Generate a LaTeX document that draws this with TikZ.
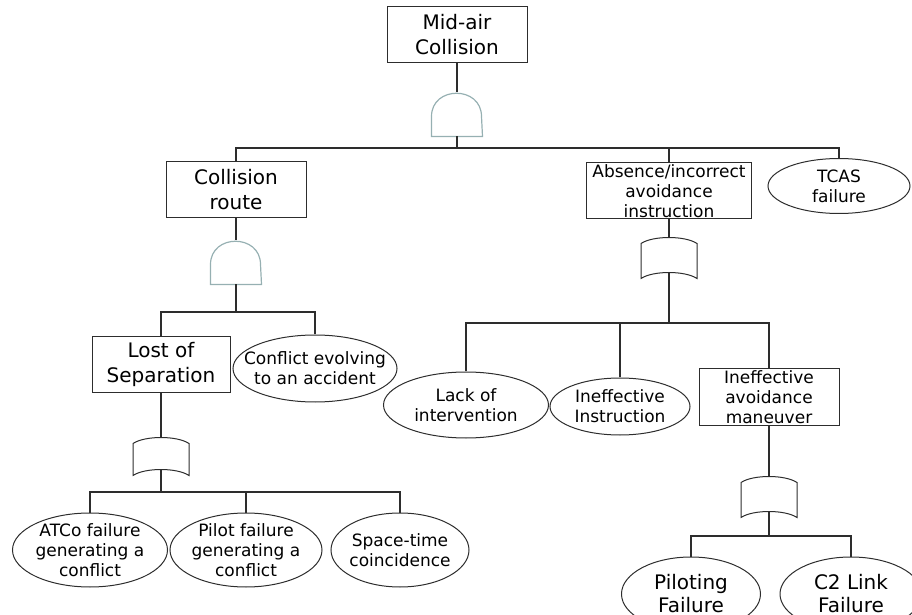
\documentclass[tikz,border=0pt]{standalone}
\usepackage{fontspec}
\setmainfont{DejaVu Sans}
\usetikzlibrary{positioning, shapes.geometric}

\definecolor{gatecol}{RGB}{150,176,178}
\definecolor{linecol}{RGB}{45,45,45}

% gate outlines drawn round an empty node
\newcommand{\andgate}[1]{\draw[gatecol, line width=0.6pt] (#1.south west) -- ++(0,-20) .. controls +(0,-31) and +(0,-31) .. ++(50,0) -- (#1.south east) -- cycle;}
\newcommand{\orgate}[1]{\draw[linecol, line width=0.5pt] ([yshift=-3pt]#1.north west) .. controls +(12,-8) and +(-12,-8) .. ([yshift=-3pt]#1.north east) -- (#1.south east) .. controls +(-12,-8) and +(12,-8) .. (#1.south west) -- cycle;}

\begin{document}
\begin{tikzpicture}[x=0.5pt, y=-0.5pt,
   every node/.style={align=center, inner sep=0pt, draw=linecol, line width=0.5pt},
   big/.style={font=\fontsize{10}{12.5}\selectfont},
   small/.style={font=\fontsize{8.5}{10}\selectfont},
   event/.style={rectangle, minimum width=70pt, minimum height=28pt},
   basic/.style={ellipse, inner xsep=-12pt, inner ysep=-5pt, minimum width=80pt, minimum height=37pt},
   gate/.style={rectangle, draw=none, minimum width=25pt},
   link/.style={draw=linecol, line width=0.65pt}]
   \useasboundingbox (0,0) rectangle (912,615);

   % top of the tree
   \node[event, big] (top) at (457,35) {Mid-air\\Collision};
   \node[gate, minimum height=21.5pt] (g1) at (457,114.5) {};
   \node[event, big] (route) at (236,190) {Collision\\route};
   \node[event, small, minimum width=82.5pt] (absence) at (669,191) {Absence/incorrect\\avoidance\\instruction};
   \node[basic, small, minimum width=71pt, minimum height=27.5pt] (tcas) at (839,186) {TCAS\\failure};

   % collision route branch
   \node[gate, minimum height=21.5pt] (g2) at (236,262.5) {};
   \node[event, big, minimum width=69pt] (lost) at (161,364.5) {Lost of\\Separation};
   \node[basic, small, minimum width=82pt, minimum height=33.5pt] (conflict) at (315,368.5) {Conflict evolving\\to an accident};
   \node[gate, minimum width=27.5pt, minimum height=18.5pt] (g3) at (161,456.5) {};
   \node[basic, small, minimum width=77.5pt] (atco) at (90,550) {ATCo failure\\generating a\\conflict};
   \node[basic, small, minimum width=76pt] (pilot) at (246,550) {Pilot failure\\generating a\\conflict};
   \node[basic, small, minimum width=69pt] (space) at (400,550) {Space-time\\coincidence};

   % avoidance branch
   \node[gate, minimum width=27.5pt, minimum height=20pt] (g4) at (669,258) {};
   \node[basic, small, minimum width=82.5pt, minimum height=33pt] (lack) at (466,405) {Lack of\\intervention};
   \node[basic, small, minimum width=70pt, minimum height=28.5pt] (ineff) at (620,406.5) {Ineffective\\Instruction};
   \node[event, small] (avoid) at (769,397) {Ineffective\\avoidance\\maneuver};
   \node[gate, minimum width=27.5pt, minimum height=20pt] (g5) at (769,497) {};
   \node[basic, font=\fontsize{10}{11.5}\selectfont, minimum width=69.5pt] (piloting) at (691,594) {Piloting\\Failure};
   \node[basic, font=\fontsize{10}{11.5}\selectfont, minimum width=71pt] (c2link) at (851,594) {C2 Link\\Failure};

   \andgate{g1}
   \andgate{g2}
   \orgate{g3}
   \orgate{g4}
   \orgate{g5}

   % joints of the branches
   \coordinate (j1) at (457,148);
   \coordinate (j2) at (236,312);
   \coordinate (j3) at (161,492);
   \coordinate (j4) at (669,323);
   \coordinate (j5) at (769,536);

   \draw[link] (top) -- (g1.north);
   \draw[link] (g1.south) -- (j1);
   \draw[link] (j1) -| (route.north);
   \draw[link] (j1) -| (absence.north);
   \draw[link] (j1) -| (tcas.north);

   \draw[link] (route) -- (g2.north);
   \draw[link] (g2.south) -- (j2);
   \draw[link] (j2) -| (lost.north);
   \draw[link] (j2) -| (conflict.north);

   \draw[link] (lost) -- (g3.north);
   \draw[link] ([yshift=3pt]g3.south) -- (j3);
   \draw[link] (j3) -| (atco.north);
   \draw[link] (j3) -| (pilot.north);
   \draw[link] (j3) -| (space.north);

   \draw[link] (absence) -- (g4.north);
   \draw[link] ([yshift=3pt]g4.south) -- (j4);
   \draw[link] (j4) -| (lack.north);
   \draw[link] (j4) -| (ineff.north);
   \draw[link] (j4) -| (avoid.north);

   \draw[link] (avoid) -- (g5.north);
   \draw[link] ([yshift=3pt]g5.south) -- (j5);
   \draw[link] (j5) -| (piloting.north);
   \draw[link] (j5) -| (c2link.north);
\end{tikzpicture}
\end{document}
